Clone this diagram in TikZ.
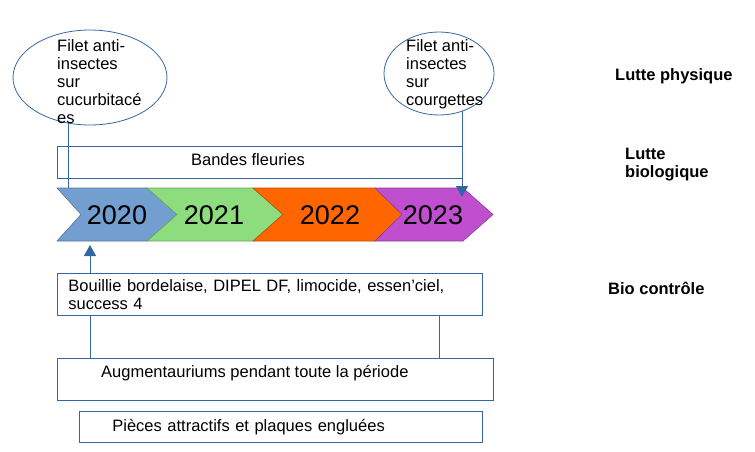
\documentclass[tikz,border=0pt]{standalone}
\usepackage{fontspec}
\setmainfont{Liberation Sans}
\usepackage{xcolor}
\usepackage{tikz}
\usetikzlibrary{shapes.geometric,arrows.meta}
\definecolor{lineBlue}{HTML}{3465A4}
\definecolor{year2020}{HTML}{729FCF}
\definecolor{year2021}{HTML}{8DDC7E}
\definecolor{year2022}{HTML}{FF6600}
\definecolor{year2023}{HTML}{BF4FCF}

\begin{document}
\begin{tikzpicture}[x=1pt,y=-1pt,
	every node/.style={font=\fontsize{16.5}{18}\selectfont,inner sep=0pt},
	box/.style={rectangle,draw=lineBlue,line width=0.8pt,anchor=north west},
	yearBox/.style={draw=#1!75!black,line width=0.6pt,fill=#1},
	yearText/.style={font=\fontsize{27}{30}\selectfont},
	sideLabel/.style={font=\fontsize{16.5}{18}\selectfont\bfseries,anchor=west,align=left},
	link/.style={draw=lineBlue,line width=0.8pt},
	linkArrow/.style={-{Triangle[width=12pt,length=11pt]}}]
	\useasboundingbox (0,0) rectangle (755,451);

	\path[yearBox=year2020] (57,188) -- (147,188) -- (177,214.5) -- (147,241) -- (57,241) -- (81,214.5) -- cycle;
	\path[yearBox=year2021] (147,188) -- (253,188) -- (283,214.5) -- (253,241) -- (147,241) -- (177,214.5) -- cycle;
	\path[yearBox=year2022] (253,188) -- (375,188) -- (402,214.5) -- (375,241) -- (253,241) -- (283,214.5) -- cycle;
	\path[yearBox=year2023] (375,188) -- (463,188) -- (493,214.5) -- (463,241) -- (375,241) -- (402,214.5) -- cycle;
	\node[yearText] (y2020) at (117,215) {2020};
	\node[yearText] (y2021) at (214,215) {2021};
	\node[yearText] (y2022) at (330,215) {2022};
	\node[yearText] (y2023) at (433,215) {2023};
	\coordinate (c2020top) at (68,188);
	\coordinate (c2023top) at (462,197);
	\coordinate (c2020bottom) at (90,245);
	\coordinate (linkRight) at (439,0);

	\node[ellipse,draw=lineBlue,line width=0.8pt,minimum width=154pt,minimum height=95pt] (netCucurb) at (90,77.5) {};
	\node[anchor=north west,align=left] (netCucurbText) at (57,39) {Filet anti-\\insectes\\sur\\cucurbitacé\\es};
	\node[ellipse,draw=lineBlue,line width=0.8pt,minimum width=110pt,minimum height=83pt] (netCourg) at (439,73.5) {};
	\node[anchor=north west,align=left] (netCourgText) at (406,39) {Filet anti-\\insectes\\sur\\courgettes};

	\node[box,minimum width=405pt,minimum height=32pt] (bandes) at (57,146) {};
	\node (bandesText) at (248,160) {Bandes fleuries};

	\node[box,minimum width=425pt,minimum height=42pt,text width=403pt,inner xsep=11pt,align=left] (bouillie) at (57,273) {Bouillie bordelaise, DIPEL DF, limocide, essen’ciel,\\success 4};
	\node[box,minimum width=436pt,minimum height=42pt] (augment) at (57,358) {};
	\node[anchor=west] (augmentText) at (101,373) {Augmentauriums pendant toute la période};
	\node[box,minimum width=403pt,minimum height=31pt,text width=337pt,inner xsep=33pt,align=left] (pieces) at (79,411) {Pièces attractifs et plaques engluées};

	\node[sideLabel] (lutPhys) at (615,76) {Lutte physique};
	\node[sideLabel] (lutBio) at (625,165) {Lutte\\biologique};
	\node[sideLabel] (bioCtrl) at (608,288) {Bio contrôle};

\draw[link] (netCucurb.-116 -| c2020top) -- (c2020top);
\draw[link,linkArrow] (netCourg.-58.5 -| c2023top) -- (c2023top);
\draw[link,linkArrow] (bouillie.north -| c2020bottom) -- (c2020bottom);
\draw[link] (augment.north -| c2020bottom) -- (bouillie.south -| c2020bottom);
\draw[link] (augment.north -| linkRight) -- (bouillie.south -| linkRight);

\end{tikzpicture}
\end{document}
